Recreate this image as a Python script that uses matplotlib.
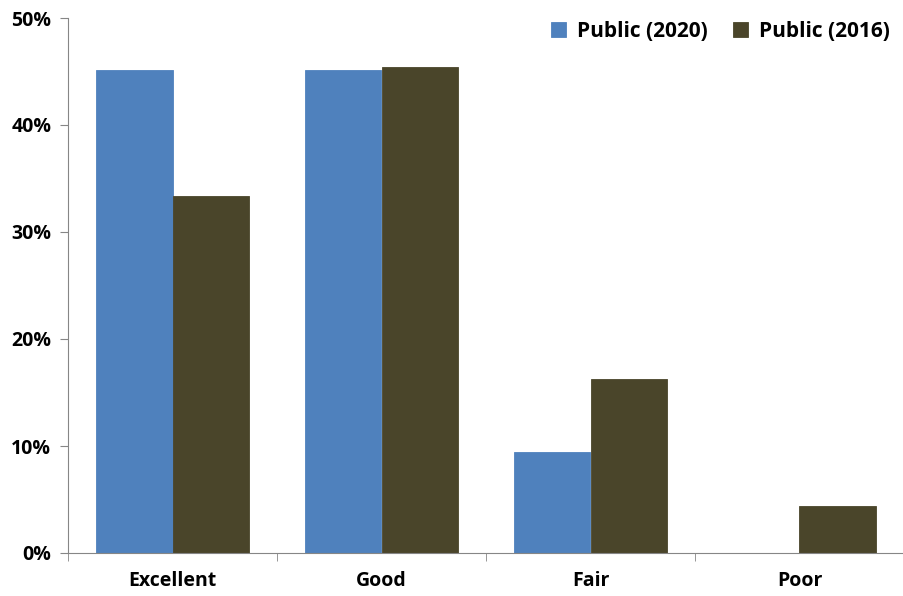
import matplotlib.pyplot as plt
import numpy as np

categories = ["Excellent", "Good", "Fair", "Poor"]
public_2020 = [45.1, 45.1, 9.4, 0.0]
public_2016 = [33.4, 45.4, 16.3, 4.4]

plt.rcParams['font.family'] = ['Open Sans', 'DejaVu Sans']
plt.rcParams['font.weight'] = 'bold'

fig = plt.figure(figsize=(9.04, 5.96), dpi=100)
ax = fig.add_axes([68/904, 1-553/596, 836/904, 535/596])

x = np.arange(len(categories))
w = 0.365
ax.bar(x - w/2, public_2020, w, color='#4F81BD', edgecolor='#4F81BD', linewidth=0.6,
       label='Public (2020)')
ax.bar(x + w/2, public_2016, w, color='#4A452A', edgecolor='#4A452A', linewidth=0.6,
       label='Public (2016)')

ax.set_xlim(-0.5, 3.5)
ax.set_ylim(0, 50)
ax.set_yticks(range(0, 51, 10))
ax.set_yticklabels([f"{v}%" for v in range(0, 51, 10)], fontsize=14, fontweight='bold')
ax.set_xticks(x)
ax.set_xticklabels(categories, fontsize=14, fontweight='bold')
ax.tick_params(axis='x', length=0, pad=13)
ax.set_xticks(np.arange(-0.5, 4, 1), minor=True)
ax.tick_params(axis='x', which='minor', length=6, color='#868686', direction='out')
ax.tick_params(axis='y', length=6, color='#868686', pad=6)

for s in ['top', 'right']:
    ax.spines[s].set_visible(False)
for s in ['left', 'bottom']:
    ax.spines[s].set_color('#868686')

ax.legend(loc='upper right', bbox_to_anchor=(1.005, 1.03), ncol=2, frameon=False,
          prop={'size': 15, 'weight': 'bold'}, handlelength=0.75, handleheight=0.75,
          columnspacing=1.2, handletextpad=0.5)

fig.savefig('out.png', dpi=100)
